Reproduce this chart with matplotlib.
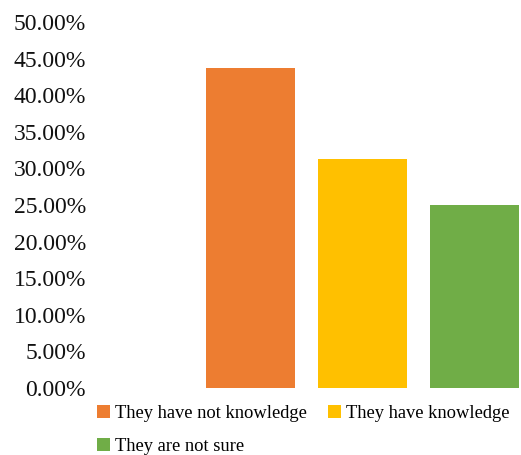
import matplotlib.pyplot as plt
from matplotlib.patches import Patch
from matplotlib.ticker import PercentFormatter

# survey answers, share of respondents (%)
answers = ["They have not knowledge", "They have knowledge", "They are not sure"]
shares = [43.75, 31.25, 25.00]
colors = ["#ED7D31", "#FFC000", "#70AD47"]

plt.rcParams['font.family'] = ['Liberation Serif', 'DejaVu Serif']

fig = plt.figure(figsize=(5.21, 4.55), dpi=100)
ax = fig.add_axes([95/521, 67/455, 425/521, 366/455])

positions = [1, 2, 3]
ax.bar(positions, shares, width=0.795, color=colors)

ax.set_xlim(-0.388, 3.406)
ax.set_ylim(0, 50)
ax.set_yticks(range(0, 51, 5))
ax.yaxis.set_major_formatter(PercentFormatter(decimals=2))
ax.tick_params(axis='y', length=0, pad=6.5, labelsize=17, colors='#111111')
ax.set_xticks([])
for side in ax.spines.values():
    side.set_visible(False)

# legend filled row by row: two entries on the first line, one below
handles = [Patch(facecolor=c, edgecolor='none') for c in colors]
order = [0, 2, 1]
fig.legend([handles[i] for i in order], [answers[i] for i in order],
           loc='upper left', bbox_to_anchor=(84/521, 1 - 392/455),
           ncol=2, frameon=False, fontsize=13.3, handlelength=0.7, handleheight=0.7,
           handletextpad=0.3, columnspacing=1.1, labelspacing=0.85, borderpad=0.2)

fig.savefig("out.png", dpi=100)
